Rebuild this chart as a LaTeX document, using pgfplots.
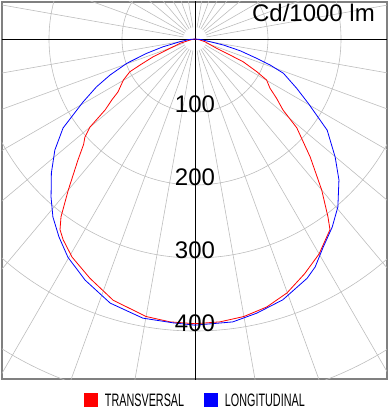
\documentclass[border=0pt]{standalone}
\usepackage{pgfplots}
\usepackage{pgfplotstable}
\pgfplotsset{compat=1.18}
\usepackage{fontspec}
\setmainfont{Liberation Sans}
\newfontfamily\legfont[FakeStretch=0.6]{Liberation Sans}
\definecolor{gridc}{gray}{0.74}
\definecolor{framec}{gray}{0.5}

\pgfplotstableread{
a r
-90 0
-80 5
-74 21
-69.6 36.5
-67 62
-64.7 83
-63.3 100
-60.2 113
-55.5 128
-53.8 141
-51.7 157
-50 188
-48.3 202
-46.6 210
-44 231
-40 270
-37 305
-35.3 320
-33.3 329
-29.4 343
-23.7 358
-17.4 375
-10 386
-5 389
0 390
5 389
10 386
15 380
19.9 370
25 355
30 340
35.3 320
36.8 304
40 270
44.3 226
48.9 185
51.1 155
54 138
56.7 123
60.2 113
62.1 96
64.7 73
65.4 53
66.8 32
74.9 14
80 6
90 0
}\transv

\pgfplotstableread{
a r
-90 0
-85 8
-79.8 21
-76.3 45
-73.5 69
-70.4 99
-67 126.5
-64.1 150
-60.7 175.5
-56 218
-51.6 245
-47 269
-42.3 293
-38.6 312
-34.5 329
-30.2 346
-24.5 363
-17.8 380
-10.6 389
-4.4 390
0 392
7.6 391
12.7 385
18.6 377
25.1 362
27.8 353
31.6 335
36.1 319
40.4 302
45.6 276
49.9 251
55.4 220
60.4 178.5
64.1 155
68.8 130
70.9 109
72.6 88.5
75.4 64
78 40
79.8 21
85 8
90 0
}\longi

\begin{document}
\begin{tikzpicture}
\useasboundingbox (-195pt,-376pt) rectangle (195pt,39pt);
\begin{axis}[
  anchor=origin,
  x=0.73pt, y=0.73pt,
  xmin=-264.4, xmax=263, ymin=-465.8, ymax=50.7,
  axis line style={draw=framec, line width=1.8pt},
  ticks=none,
  clip=true,
  legend style={at={(rel axis cs:0.5,0)}, anchor=north, yshift=-14pt,
    draw=none, fill=none, inner sep=0pt, legend columns=2,
    font=\legfont\fontsize{18}{18}\selectfont,
    nodes={inner sep=0pt, anchor=base},
    /tikz/every odd column/.append style={column sep=7pt},
    /tikz/every even column/.append style={column sep=20pt}},
  legend image code/.code={\fill[#1] (0pt,0pt) rectangle (13pt,13pt);},
]
\pgfplotsinvokeforeach{100,200,300,400,500}{
  \draw[gridc, line width=0.6pt] (axis cs:0,0) circle[radius={#1*0.73pt}];
}
\pgfplotsinvokeforeach{0,10,...,350}{
  \draw[gridc, line width=0.6pt] (axis cs:{16*sin(#1)},{16*cos(#1)}) -- (axis cs:{700*sin(#1)},{700*cos(#1)});
}
\draw[black, line width=0.8pt] (axis cs:-300,0) -- (axis cs:300,0);
\draw[black, line width=0.8pt] (axis cs:0,60) -- (axis cs:0,-480);

\addplot[color=red, line width=0.8pt] table[x expr={\thisrow{r}*sin(\thisrow{a})}, y expr={-\thisrow{r}*cos(\thisrow{a})}] {\transv};
\addlegendentry{TRANSVERSAL}
\addplot[color=blue, line width=0.8pt] table[x expr={\thisrow{r}*sin(\thisrow{a})}, y expr={-\thisrow{r}*cos(\thisrow{a})}] {\longi};
\addlegendentry{LONGITUDINAL}

\node[anchor=base, font=\fontsize{24}{24}\selectfont, inner sep=0pt] at (axis cs:0,-101) {100};
\node[anchor=base, font=\fontsize{24}{24}\selectfont, inner sep=0pt] at (axis cs:0,-201) {200};
\node[anchor=base, font=\fontsize{24}{24}\selectfont, inner sep=0pt] at (axis cs:0,-301) {300};
\node[anchor=base, font=\fontsize{24}{24}\selectfont, inner sep=0pt] at (axis cs:0,-401) {400};
\node[anchor=base east, font=\fontsize{24}{24}\selectfont, inner sep=0pt] at (axis cs:246.6,23.3) {Cd/1000 lm};
\end{axis}
\end{tikzpicture}
\end{document}
